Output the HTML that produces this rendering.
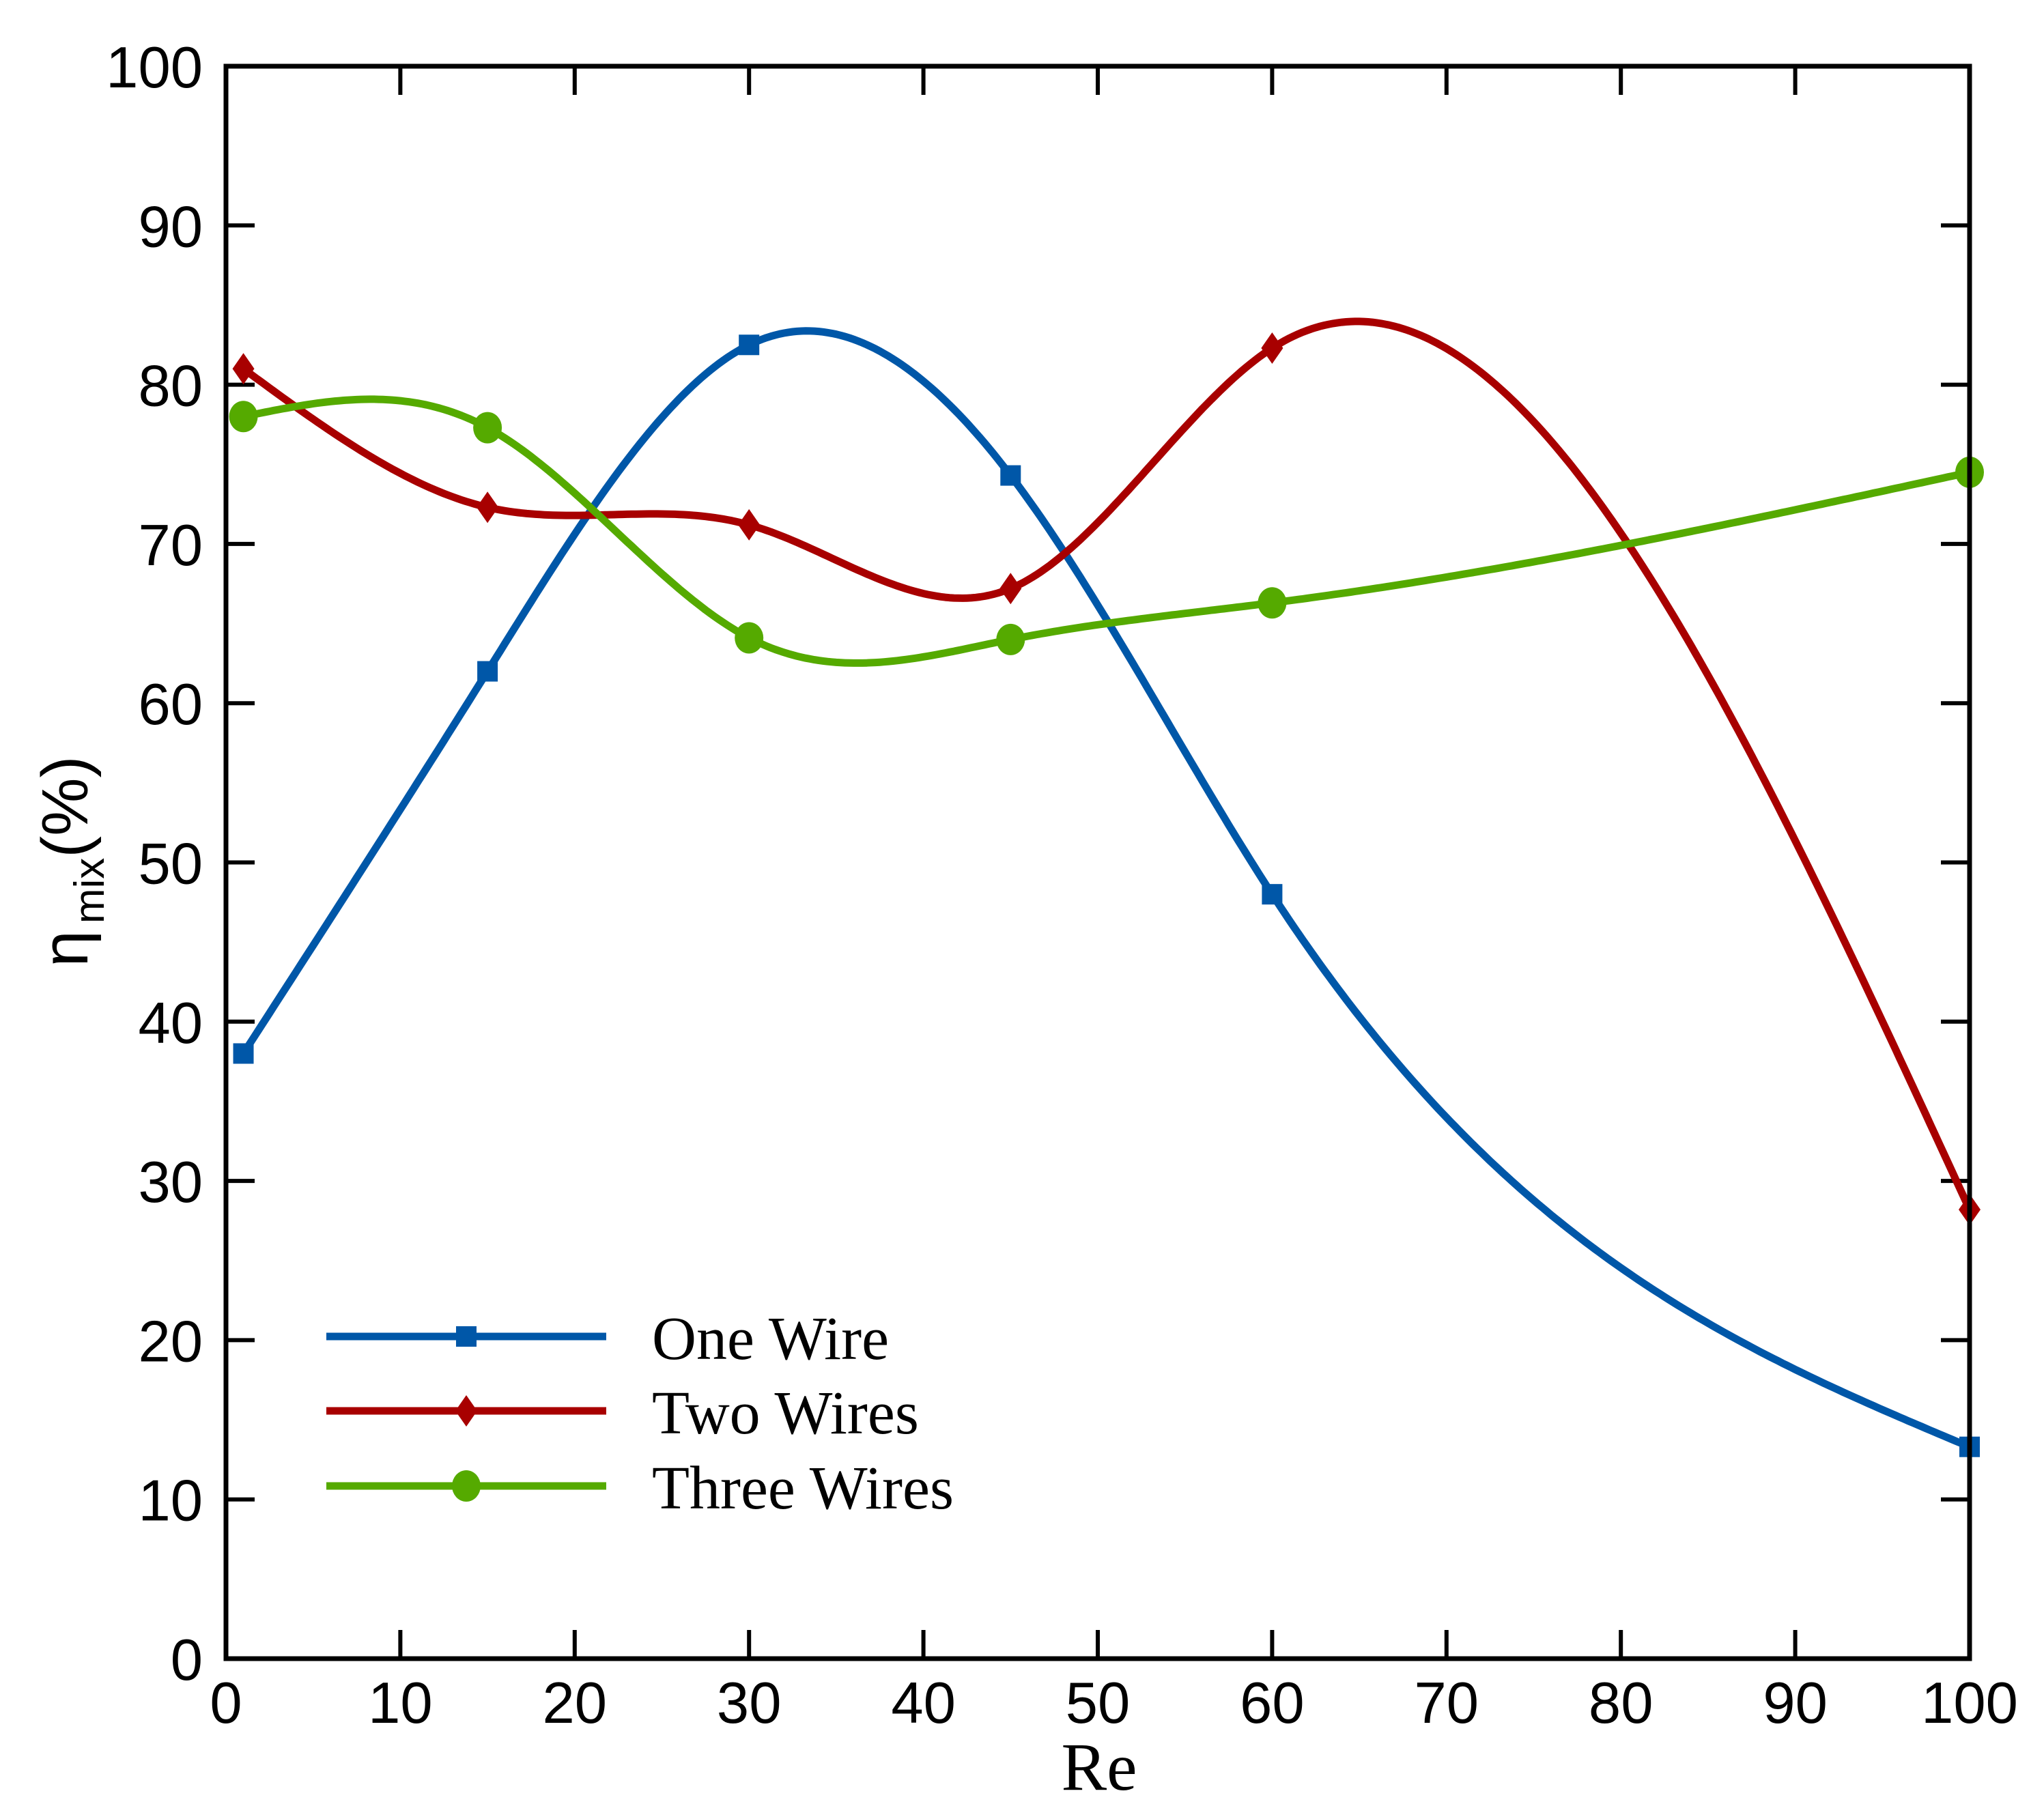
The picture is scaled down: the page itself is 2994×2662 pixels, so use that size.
<!DOCTYPE html>
<html><head><meta charset="utf-8"><style>
html,body{margin:0;padding:0;background:#fff;}
svg{display:block;}
</style></head><body>
<svg id="chart" width="2994" height="2662" viewBox="0 0 2994 2662" xmlns="http://www.w3.org/2000/svg">
<rect width="2994" height="2662" fill="#fff"/>
<g id="ticks"></g>
<g id="series"></g>
<rect x="331" y="97" width="2554" height="2333" fill="none" stroke="#000" stroke-width="7"/>
<text x="1610" y="2622" text-anchor="middle" font-family="Liberation Serif, serif" font-size="100">Re</text>
<text transform="translate(128,1262) rotate(-90)" text-anchor="middle" font-family="Liberation Sans, sans-serif" font-size="96">η<tspan font-size="62" dy="24" dx="10">mix</tspan><tspan dy="-24">(%)</tspan></text>
<g id="legend"></g>
</svg>
<script>
const xs = [1, 15, 30, 45, 60, 100];
const oneWire = [38, 62, 82.5, 74.3, 48, 13.3];
const twoWires = [81, 72.3, 71.2, 67.2, 82.3, 28.2];
const threeWires = [78, 77.3, 64.1, 64, 66.3, 74.5];
const xTicks = [0, 10, 20, 30, 40, 50, 60, 70, 80, 90, 100];
const yTicks = [0, 10, 20, 30, 40, 50, 60, 70, 80, 90, 100];
const seriesNames = ["One Wire", "Two Wires", "Three Wires"];

const L=331,R=2885,T=97,B=2430;
const sx=v=>L+(v-0)/(100-0)*(R-L);
const sy=v=>B-(v-0)/(100-0)*(B-T);
const NS="http://www.w3.org/2000/svg";
function mk(tag,attrs,parent){const e=document.createElementNS(NS,tag);for(const k in attrs)e.setAttribute(k,attrs[k]);parent.appendChild(e);return e;}
const tg=document.getElementById('ticks');
const TL=42;
xTicks.forEach(t=>{
  const x=sx(t);
  let l=mk('line',{x1:x,y1:B,x2:x,y2:B-TL,stroke:'#000','stroke-width':6},tg);
  
  
  l=mk('line',{x1:x,y1:T,x2:x,y2:T+TL,stroke:'#000','stroke-width':6},tg);
  
  
  const tx=mk('text',{x:x,y:B+94,'text-anchor':'middle','font-family':'Liberation Sans, sans-serif','font-size':85},tg);
  tx.textContent=t;
  
  
});
yTicks.forEach(t=>{
  const y=sy(t);
  let l=mk('line',{x1:L,y1:y,x2:L+TL,y2:y,stroke:'#000','stroke-width':6},tg);
  
  
  l=mk('line',{x1:R,y1:y,x2:R-TL,y2:y,stroke:'#000','stroke-width':6},tg);
  
  
  const tx=mk('text',{x:L-34,y:y+31,'text-anchor':'end','font-family':'Liberation Sans, sans-serif','font-size':85},tg);
  tx.textContent=t;
  
  
});
function spline(x,y){
  const n=x.length,h=[],a=[],l=[1],mu=[0],z=[0],c=new Array(n).fill(0),b=[],d=[];
  for(let i=0;i<n-1;i++)h.push(x[i+1]-x[i]);
  for(let i=1;i<n-1;i++)a[i]=3/h[i]*(y[i+1]-y[i])-3/h[i-1]*(y[i]-y[i-1]);
  for(let i=1;i<n-1;i++){l[i]=2*(x[i+1]-x[i-1])-h[i-1]*mu[i-1];mu[i]=h[i]/l[i];z[i]=(a[i]-h[i-1]*z[i-1])/l[i];}
  for(let j=n-2;j>=1;j--){c[j]=z[j]-mu[j]*c[j+1];}
  c[0]=0;
  for(let j=0;j<n-1;j++){b[j]=(y[j+1]-y[j])/h[j]-h[j]*(c[j+1]+2*c[j])/3;d[j]=(c[j+1]-c[j])/(3*h[j]);}
  return t=>{let i=0;while(i<n-2&&t>x[i+1])i++;const dx=t-x[i];return y[i]+b[i]*dx+c[i]*dx*dx+d[i]*dx*dx*dx;};
}
const sg=document.getElementById('series');
const colors=['#0057a8','#a80000','#55aa00'];
const data=[oneWire,twoWires,threeWires];
const keys=['one-wire','two-wires','three-wires'];
function marker(kind,x,y,col,g){
  let m;
  if(kind==0)m=mk('rect',{x:x-15,y:y-15,width:30,height:30,fill:col},g);
  else if(kind==1)m=mk('polygon',{points:`${x},${y-23} ${x+16},${y} ${x},${y+23} ${x-16},${y}`,fill:col},g);
  else m=mk('ellipse',{cx:x,cy:y,rx:21,ry:23,fill:col},g);
  return m;
}
data.forEach((vals,k)=>{
  const f=spline(xs,vals);
  let d='';
  for(let t=xs[0];t<=xs[xs.length-1]+1e-9;t+=0.25){d+=(d?'L':'M')+sx(t).toFixed(1)+','+sy(f(t)).toFixed(1);}
  const p=mk('path',{d:d,fill:'none',stroke:colors[k],'stroke-width':11,'stroke-linejoin':'round'},sg);
  
  
  vals.forEach((v,i)=>{
    const m=marker(k,sx(xs[i]),sy(v),colors[k],sg);
    
    
  });
});
const lg=document.getElementById('legend');
const rows=[1958,2067,2177];
seriesNames.forEach((nm,k)=>{
  const y=rows[k];
  const l=mk('line',{x1:478,y1:y,x2:888,y2:y,stroke:colors[k],'stroke-width':11},lg);
  
  
  const m=marker(k,683,y,colors[k],lg);
  
  
  const t=mk('text',{x:955,y:y+33,'font-family':'Liberation Serif, serif','font-size':90},lg);
  t.textContent=nm;
  
  
});
</script>
</body></html>
